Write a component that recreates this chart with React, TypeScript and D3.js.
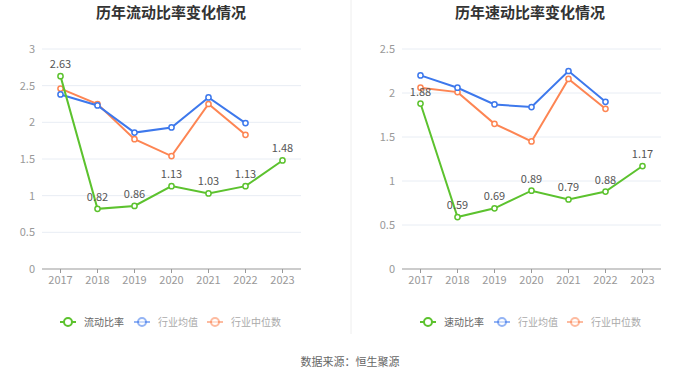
import React from "react";
import * as d3 from "d3";

const years = ["2017", "2018", "2019", "2020", "2021", "2022", "2023"];

const currentRatio = [2.63, 0.82, 0.86, 1.13, 1.03, 1.13, 1.48];
const currentIndustryAvg = [2.38, 2.23, 1.86, 1.93, 2.34, 1.99];
const currentIndustryMedian = [2.46, 2.25, 1.77, 1.54, 2.25, 1.83];

const quickRatio = [1.88, 0.59, 0.69, 0.89, 0.79, 0.88, 1.17];
const quickIndustryAvg = [2.2, 2.06, 1.87, 1.84, 2.25, 1.9];
const quickIndustryMedian = [2.06, 2.01, 1.65, 1.45, 2.16, 1.82];

const leftTicks = [0, 0.5, 1, 1.5, 2, 2.5, 3];
const rightTicks = [0, 0.5, 1, 1.5, 2, 2.5];

const GREEN = "#5cc22e";
const BLUE = "#3d78ec";
const ORANGE = "#fd8553";
const FONT = "'Noto Sans CJK SC', 'Noto Sans', sans-serif";

type PanelProps = {
  x0: number;
  x1: number;
  cx: number;
  title: string;
  mainName: string;
  main: number[];
  avg: number[];
  median: number[];
  ticks: number[];
  yMax: number;
  legendX: number;
};

function Panel(p: PanelProps) {
  const top = 49;
  const bottom = 269;
  const x = d3.scaleBand<string>().domain(years).range([p.x0, p.x1]);
  const xc = (i: number) => (x(years[i]) as number) + x.bandwidth() / 2;
  const y = d3.scaleLinear().domain([0, p.yMax]).range([bottom, top]);
  const line = d3
    .line<number>()
    .x((_, i) => xc(i))
    .y((d) => y(d));

  const series = [
    { data: p.median, color: ORANGE },
    { data: p.avg, color: BLUE },
    { data: p.main, color: GREEN },
  ];

  const legendItems = [
    { name: p.mainName, color: GREEN, text: "#666", op: 1 },
    { name: "行业均值", color: BLUE, text: "#aaa", op: 0.55 },
    { name: "行业中位数", color: ORANGE, text: "#aaa", op: 0.55 },
  ];
  const legendOffsets = [0, 74, 147];

  return (
    <g>
      <text
        x={p.cx}
        y={18}
        textAnchor="middle"
        fontSize={15}
        fontWeight="bold"
        fill="#333"
        fontFamily={FONT}
      >
        {p.title}
      </text>
      {p.ticks.map((t) => (
        <g key={t}>
          {t > 0 && (
            <line x1={p.x0} x2={p.x1} y1={y(t)} y2={y(t)} stroke="#e8edf4" strokeWidth={1} />
          )}
          <text
            x={p.x0 - 7}
            y={y(t)}
            dy="0.35em"
            textAnchor="end"
            fontSize={11}
            fill="#999"
            fontFamily={FONT}
          >
            {String(t)}
          </text>
        </g>
      ))}
      <line x1={p.x0} x2={p.x1} y1={bottom} y2={bottom} stroke="#999" strokeWidth={1} />
      {years.map((yr, i) => (
        <g key={yr}>
          <line x1={xc(i)} x2={xc(i)} y1={bottom} y2={bottom + 4} stroke="#999" />
          <text
            x={xc(i)}
            y={bottom + 15}
            textAnchor="middle"
            fontSize={11}
            fill="#999"
            fontFamily={FONT}
          >
            {yr}
          </text>
        </g>
      ))}
      {series.map((s, k) => (
        <g key={k}>
          <path d={line(s.data) || ""} fill="none" stroke={s.color} strokeWidth={2} />
          {s.data.map((v, i) => (
            <circle key={i} cx={xc(i)} cy={y(v)} r={2.6} fill="#fff" stroke={s.color} strokeWidth={1.5} />
          ))}
        </g>
      ))}
      {p.main.map((v, i) => (
        <text
          key={i}
          x={xc(i)}
          y={y(v) - 8}
          textAnchor="middle"
          fontSize={11}
          fill="#555"
          fontFamily={FONT}
        >
          {v.toFixed(2)}
        </text>
      ))}
      {legendItems.map((it, k) => {
        const lx = p.legendX + legendOffsets[k];
        const ly = 322;
        return (
          <g key={it.name} opacity={1}>
            <line x1={lx} x2={lx + 16} y1={ly} y2={ly} stroke={it.color} strokeWidth={2} opacity={it.op} />
            <circle cx={lx + 8} cy={ly} r={4} fill="#fff" stroke={it.color} strokeWidth={2} opacity={it.op} />
            <text
              x={lx + 24}
              y={ly}
              dy="0.35em"
              fontSize={10}
              fill={it.text}
              fontFamily={FONT}
            >
              {it.name}
            </text>
          </g>
        );
      })}
    </g>
  );
}

export default function App() {
  return (
    <svg
      width={700}
      height={377}
      style={{ position: "absolute", left: 0, top: 0, background: "#fff" }}
    >
      <rect width={700} height={377} fill="#fff" />
      <line x1={351} x2={351} y1={0} y2={334} stroke="#eee" strokeWidth={1} />
      <Panel
        x0={42}
        x1={301}
        cx={171}
        title="历年流动比率变化情况"
        mainName="流动比率"
        main={currentRatio}
        avg={currentIndustryAvg}
        median={currentIndustryMedian}
        ticks={leftTicks}
        yMax={3}
        legendX={60}
      />
      <Panel
        x0={402}
        x1={661}
        cx={530}
        title="历年速动比率变化情况"
        mainName="速动比率"
        main={quickRatio}
        avg={quickIndustryAvg}
        median={quickIndustryMedian}
        ticks={rightTicks}
        yMax={2.5}
        legendX={420}
      />
      <text
        x={350}
        y={362}
        textAnchor="middle"
        dy="0.35em"
        fontSize={11}
        fill="#666"
        fontFamily={FONT}
      >
        数据来源：恒生聚源
      </text>
    </svg>
  );
}
